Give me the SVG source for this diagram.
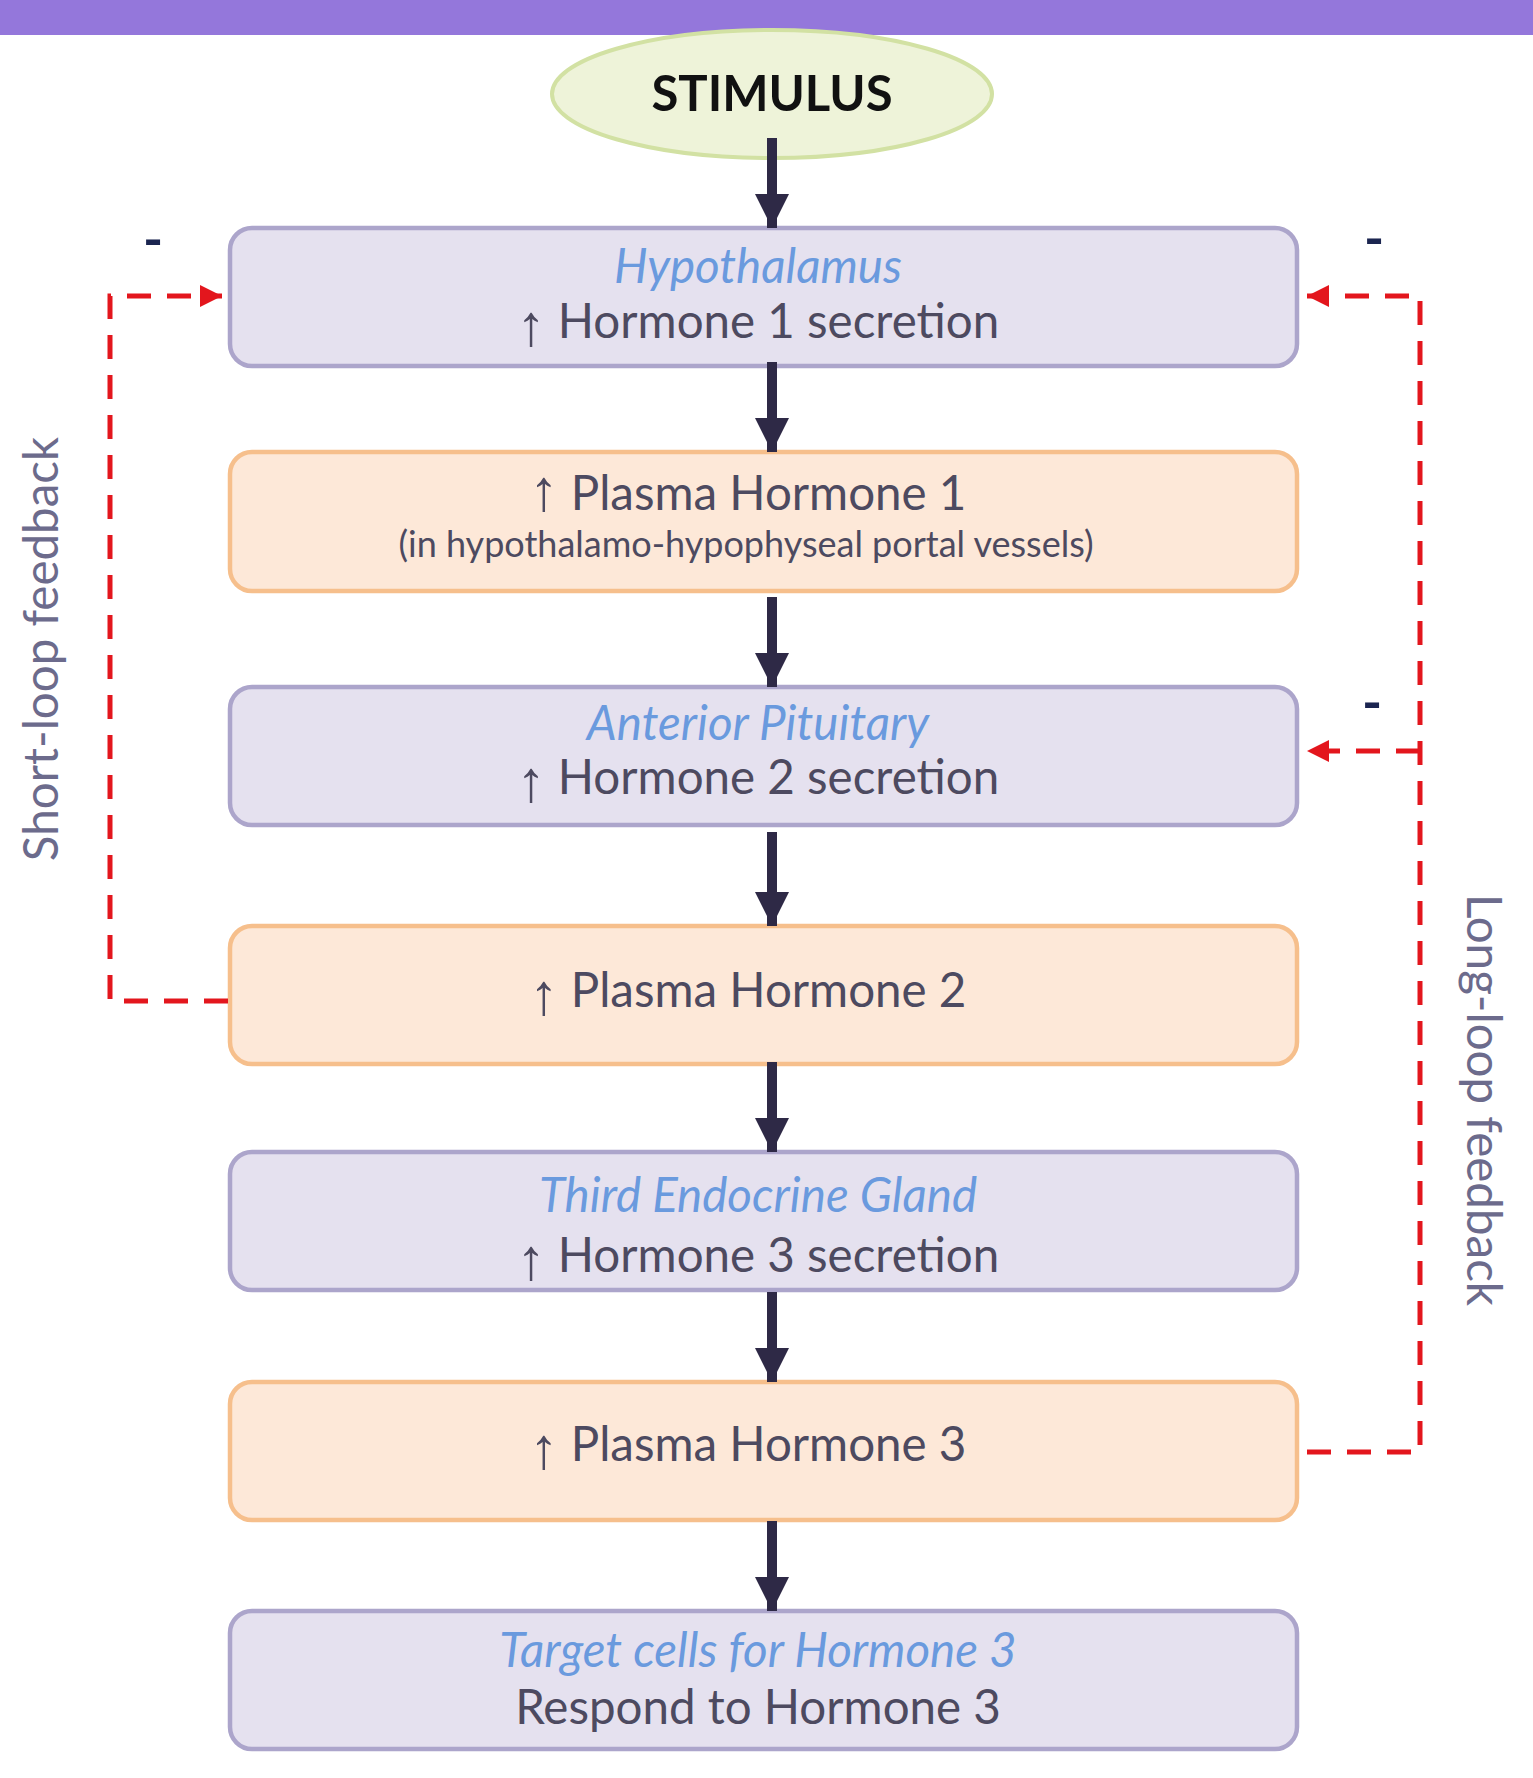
<svg xmlns="http://www.w3.org/2000/svg" width="1533" height="1778" viewBox="0 0 1533 1778">
<style>
.pbox{fill:#e5e1ef;stroke:#aca5cb;stroke-width:4.5}
.obox{fill:#fde8d8;stroke:#f6bf8c;stroke-width:4.5}
.ital{font-family:Lato,"Open Sans",sans-serif;font-style:italic;font-size:47.5px;fill:#6a9ade;text-anchor:middle}
.main{font-family:Lato,"Open Sans",sans-serif;font-size:47.5px;fill:#4d4a60;text-anchor:middle}
.up{font-family:"Liberation Sans",sans-serif;font-weight:normal;font-size:58px}
.sub{font-family:Lato,"Open Sans",sans-serif;font-size:36px;fill:#4d4a60;text-anchor:middle}
.side{font-family:Lato,"Open Sans",sans-serif;font-size:47.5px;fill:#6c6b8c;text-anchor:middle}
.minus{font-family:Lato,"Open Sans",sans-serif;font-weight:bold;font-size:54px;fill:#1b2550;text-anchor:middle}
.flow{stroke:#2e2946;stroke-width:10;fill:none}
.fb{stroke:#e3161d;stroke-width:5;fill:none;stroke-dasharray:24 16}
</style>
<defs>
<marker id="ah" viewBox="0 0 10 10" refX="10" refY="5" markerWidth="3.4" markerHeight="3.4" orient="auto" markerUnits="strokeWidth">
<path d="M0,0 L10,5 L0,10 z" fill="#2e2946"/>
</marker>
<marker id="rh" viewBox="0 0 10 10" refX="10" refY="5" markerWidth="5.6" markerHeight="4.4" orient="auto" markerUnits="strokeWidth">
<path d="M0,0 L10,5 L0,10 z" fill="#e3161d"/>
</marker>
</defs>
<rect x="0" y="0" width="1533" height="35" fill="#9477db"/>

<g id="stimulus">
<ellipse cx="772" cy="94" rx="220" ry="64" fill="#eef3d9" stroke="#d2e1a3" stroke-width="4"/>
<text x="772" y="111" font-family="Lato,'Open Sans',sans-serif" font-weight="bold" font-size="49" fill="#111" text-anchor="middle">STIMULUS</text>
</g>

<g id="hypothalamus">
<rect class="pbox" x="230" y="228" width="1067" height="138" rx="22"/>
<text class="ital" x="758" y="283">Hypothalamus</text>
<text class="main" x="758" y="338"><tspan class="up" baseline-shift="-7">↑</tspan> Hormone 1 secretion</text>
</g>

<g id="plasma1">
<rect class="obox" x="230" y="452" width="1067" height="139" rx="22"/>
<text class="main" x="748" y="510"><tspan class="up" font-size="52">↑</tspan> Plasma Hormone 1</text>
<text class="sub" x="746" y="557">(in hypothalamo-hypophyseal portal vessels)</text>
</g>

<g id="pituitary">
<rect class="pbox" x="230" y="687" width="1067" height="138" rx="22"/>
<text class="ital" x="758" y="740">Anterior Pituitary</text>
<text class="main" x="758" y="794"><tspan class="up" baseline-shift="-7">↑</tspan> Hormone 2 secretion</text>
</g>

<g id="plasma2">
<rect class="obox" x="230" y="926" width="1067" height="138" rx="22"/>
<text class="main" x="748" y="1007"><tspan class="up" baseline-shift="-7">↑</tspan> Plasma Hormone 2</text>
</g>

<g id="third">
<rect class="pbox" x="230" y="1152" width="1067" height="138" rx="22"/>
<text class="ital" x="758" y="1212">Third Endocrine Gland</text>
<text class="main" x="758" y="1272"><tspan class="up" baseline-shift="-7">↑</tspan> Hormone 3 secretion</text>
</g>

<g id="plasma3">
<rect class="obox" x="230" y="1382" width="1067" height="138" rx="22"/>
<text class="main" x="748" y="1461"><tspan class="up" baseline-shift="-7">↑</tspan> Plasma Hormone 3</text>
</g>

<g id="target">
<rect class="pbox" x="230" y="1611" width="1067" height="138" rx="22"/>
<text class="ital" x="758" y="1667">Target cells for Hormone 3</text>
<text class="main" x="758" y="1724">Respond to Hormone 3</text>
</g>

<g id="connectors">
<line class="flow" x1="772" y1="138" x2="772" y2="228" marker-end="url(#ah)"/>
<line class="flow" x1="772" y1="362" x2="772" y2="452" marker-end="url(#ah)"/>
<line class="flow" x1="772" y1="597" x2="772" y2="687" marker-end="url(#ah)"/>
<line class="flow" x1="772" y1="832" x2="772" y2="926" marker-end="url(#ah)"/>
<line class="flow" x1="772" y1="1062" x2="772" y2="1152" marker-end="url(#ah)"/>
<line class="flow" x1="772" y1="1292" x2="772" y2="1382" marker-end="url(#ah)"/>
<line class="flow" x1="772" y1="1521" x2="772" y2="1611" marker-end="url(#ah)"/>
<path class="fb" d="M228,1001 H110 V296 H222" marker-end="url(#rh)"/>
<path class="fb" d="M1307,1452 H1420 V296 H1307" marker-end="url(#rh)"/>
<path class="fb" d="M1420,751 H1307" marker-end="url(#rh)"/>
</g>

<g id="labels">
<text class="side" transform="translate(58,649) rotate(-90)">Short-loop feedback</text>
<text class="side" transform="translate(1467,1100) rotate(90)">Long-loop feedback</text>
<text class="minus" x="153" y="258">-</text>
<text class="minus" x="1374" y="257">-</text>
<text class="minus" x="1372" y="721">-</text>
</g>
</svg>
